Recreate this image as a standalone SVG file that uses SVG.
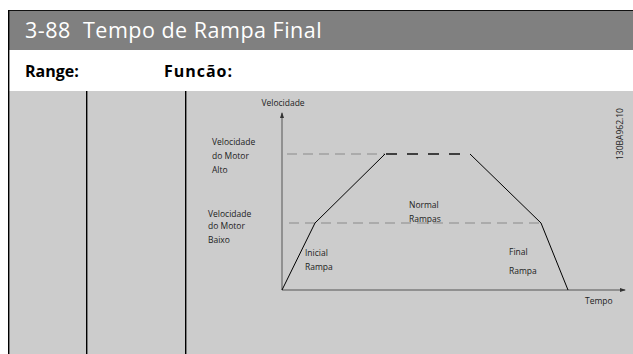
<svg xmlns="http://www.w3.org/2000/svg" width="633" height="354" viewBox="0 0 633 354">
<style>
.hdr{font-family:"Open Sans","DejaVu Sans",sans-serif;font-size:21.5px;letter-spacing:0.5px;fill:#ffffff;white-space:pre}
.sub{font-family:"Open Sans","DejaVu Sans",sans-serif;font-size:16px;font-weight:bold;fill:#000000}
.lbl{font-family:"Open Sans","DejaVu Sans",sans-serif;font-size:8.5px;fill:#222222}
.axis{stroke:#555555;stroke-width:1;fill:none}
.ramp{stroke:#000000;stroke-width:1;fill:none}
.ldash{stroke:#8a8a8a;stroke-width:1;stroke-dasharray:10 6;fill:none}
.ddash{stroke:#111111;stroke-width:1.3;stroke-dasharray:11 10;fill:none}
.col{stroke:#000000;stroke-width:1.4}
</style>
<defs>
<marker id="arr" viewBox="0 0 6 6" refX="5" refY="3" markerWidth="6" markerHeight="6" orient="auto" markerUnits="userSpaceOnUse">
<path d="M0,1 L6,3 L0,5 z" fill="#333333"/>
</marker>
</defs>
<g id="table">
<rect x="8" y="10" width="625" height="40" fill="#808080"/>
<rect x="8" y="50" width="625" height="41" fill="#ffffff"/>
<rect x="8" y="91" width="625" height="263" fill="#cccccc"/>
<line x1="8" y1="10.5" x2="633" y2="10.5" stroke="#111111" stroke-width="1.2"/>
<line x1="8.7" y1="10" x2="8.7" y2="354" class="col"/>
<line x1="86.7" y1="91" x2="86.7" y2="354" class="col"/>
<line x1="185.7" y1="91" x2="185.7" y2="354" class="col"/>
<text x="25" y="38" class="hdr" xml:space="preserve">3-88  Tempo de Rampa Final</text>
<text x="25" y="77" class="sub">Range:</text>
<text x="164" y="77" class="sub" textLength="68" lengthAdjust="spacing">Funcão:</text>
</g>
<g id="connectors">
<line x1="282" y1="290" x2="282" y2="113" class="axis" marker-end="url(#arr)"/>
<line x1="282" y1="290" x2="625" y2="290" class="axis" marker-end="url(#arr)"/>
<line x1="287" y1="154" x2="385" y2="154" class="ldash"/>
<line x1="289" y1="223" x2="541" y2="223" class="ldash"/>
<line x1="386" y1="154" x2="466" y2="154" class="ddash"/>
<polyline points="282,290 315,223 385,154" class="ramp"/>
<polyline points="470,154 541,223 568,290" class="ramp"/>
</g>
<g id="labels">
<text x="283" y="106" class="lbl" text-anchor="middle">Velocidade</text>
<text x="212" y="145" class="lbl">Velocidade</text>
<text x="212" y="159" class="lbl">do Motor</text>
<text x="212" y="173" class="lbl">Alto</text>
<text x="208" y="217" class="lbl">Velocidade</text>
<text x="208" y="229" class="lbl">do Motor</text>
<text x="208" y="243" class="lbl">Baixo</text>
<text x="305" y="256" class="lbl">Inicial</text>
<text x="305" y="270" class="lbl">Rampa</text>
<text x="409" y="208" class="lbl">Normal</text>
<text x="409" y="222" class="lbl">Rampas</text>
<text x="509" y="255" class="lbl">Final</text>
<text x="509" y="274" class="lbl">Rampa</text>
<text x="585" y="304" class="lbl">Tempo</text>
<text x="0" y="0" class="lbl" transform="translate(623,160) rotate(-90)">130BA962.10</text>
</g>
</svg>
